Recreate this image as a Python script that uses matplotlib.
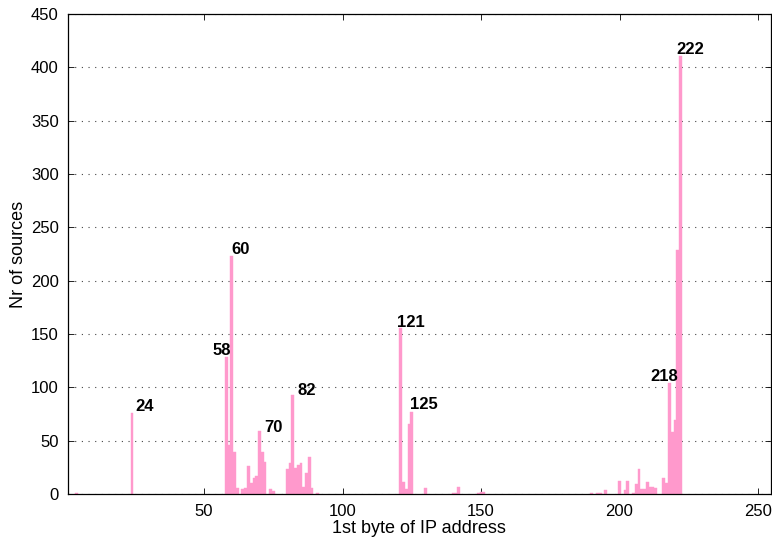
import matplotlib
matplotlib.use("Agg")
import matplotlib.pyplot as plt

# ---- data ----
byte_values = [4, 24,
               58, 59, 60, 61, 62, 64, 65, 66, 67, 68, 69, 70, 71, 72, 74, 75,
               80, 81, 82, 83, 84, 85, 86, 87, 88, 89, 91,
               121, 122, 123, 124, 125, 130, 140, 141, 142, 149, 150, 151,
               190, 192, 193, 195, 200, 202, 203, 205, 206, 207, 208, 209, 210,
               211, 212, 213, 216, 217, 218, 219, 220, 221, 222]
source_counts = [1, 76,
                 128, 46, 223, 39, 6, 5, 6, 26, 10, 15, 17, 59, 39, 30, 5, 3,
                 23, 29, 93, 24, 27, 29, 7, 20, 35, 6, 1,
                 156, 11, 5, 66, 77, 6, 1, 1, 7, 1, 2, 2,
                 1, 1, 1, 4, 12, 4, 12, 1, 9, 23, 5, 5, 11,
                 7, 7, 6, 15, 10, 104, 58, 69, 229, 411]
label_bytes = [24, 58, 60, 70, 82, 121, 125, 218, 222]
x_ticks = [50, 100, 150, 200, 250]
y_ticks = list(range(0, 451, 50))

# label offsets in pixels (dx, dy) relative to bar centre / top
label_offsets = {24: (3.4, 2), 58: (-13.9, 2.5), 60: (0, 2), 70: (4.9, -1.2),
                 82: (4.6, 0), 121: (-4.1, 1), 125: (-1.9, 2.6),
                 218: (-19, 2), 222: (-4.1, 1.3)}

plt.rcParams['font.family'] = ['Liberation Sans', 'DejaVu Sans']

W, H = 772, 540
fig = plt.figure(figsize=(W / 100, H / 100), dpi=100)
ax = fig.add_axes([68.3 / W, 1 - 494 / H, (770.5 - 68.3) / W, 480 / H])

ax.bar(byte_values, source_counts, width=1.0, color='#ff99cc',
       edgecolor='#ff99cc', linewidth=0.3, zorder=2)

ax.set_xlim(1, 254.5)
ax.set_ylim(0, 450)
ax.set_xticks(x_ticks)
ax.set_yticks(y_ticks)

ax.set_axisbelow(True)
ax.yaxis.grid(True, linestyle=(0, (1, 5)), linewidth=0.8, color='#444444')
ax.xaxis.grid(False)

ax.tick_params(direction='in', length=4, width=0.6, top=True, right=True,
               labelsize=12, colors='black', pad=7)
for s in ax.spines.values():
    s.set_linewidth(0.9)
    s.set_color('black')
    s.set_zorder(3)

ax.set_xlabel('1st byte of IP address', fontsize=13, labelpad=1)
ax.set_ylabel('Nr of sources', fontsize=13, labelpad=3)

lookup = dict(zip(byte_values, source_counts))
for b in label_bytes:
    dx, dy = label_offsets[b]
    ax.annotate(str(b), xy=(b, lookup[b]), xytext=(dx, dy),
                textcoords='offset pixels', ha='left', va='baseline',
                fontsize=12, fontweight='bold', zorder=4)

fig.savefig('out.png', dpi=100)
